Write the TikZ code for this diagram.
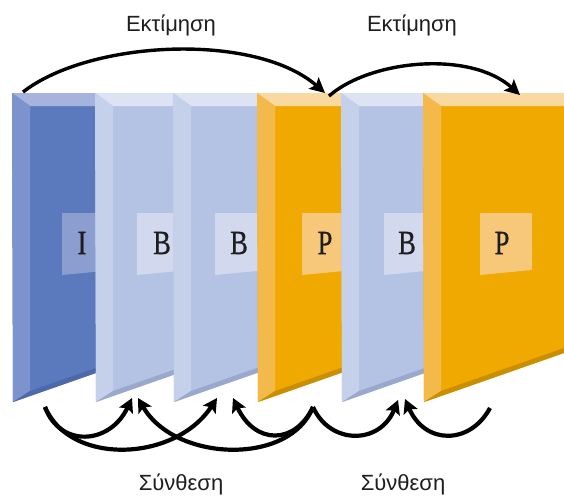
\documentclass[tikz,border=0pt]{standalone}
\usepackage{fontspec}
\setmainfont{Liberation Serif}
\newfontfamily\grkfont{Liberation Sans}
\newfontfamily\letterfont{Liberation Serif}[FakeBold=0.8]
\usetikzlibrary{arrows.meta}

\definecolor{Imain}{HTML}{5B7ABD}
\definecolor{Ileft}{HTML}{7C93CD}
\definecolor{Itop}{HTML}{A6B4DD}
\definecolor{Ibot}{HTML}{4D69AC}
\definecolor{Ibox}{HTML}{8C9ED0}
\definecolor{Bmain}{HTML}{B4C2E3}
\definecolor{Bleft}{HTML}{C5D0EA}
\definecolor{Btop}{HTML}{DDE3F3}
\definecolor{Bbot}{HTML}{9BA8CD}
\definecolor{Bbox}{HTML}{D2D9EE}
\definecolor{Pmain}{HTML}{EFA900}
\definecolor{Pleft}{HTML}{F3B94A}
\definecolor{Ptop}{HTML}{F9D9A0}
\definecolor{Pbot}{HTML}{C98F00}
\definecolor{Pbox}{HTML}{F7C87A}
\definecolor{txt}{HTML}{1E1E1E}

\tikzset{
  frameletter/.style={inner sep=0pt, text=txt,
    font=\letterfont\fontsize{34}{34}\selectfont},
  caption/.style={inner sep=0pt, anchor=base, text=txt,
    font=\grkfont\fontsize{22}{22}\selectfont},
  toparr/.style={line width=3.4pt, draw=black,
    -{Stealth[length=15pt,width=15pt,inset=3pt]}},
  botarr/.style={line width=4.2pt, draw=black,
    -{Stealth[length=14pt,width=15pt,inset=3pt]}},
}

% #1 xL, #2 xR, #3 palette, #4 boxL, #5 letter, #6 letter x, #7 node name
\newcommand{\drawframe}[7]{%
  \pgfmathsetmacro{\yR}{402-0.35*(#2-#1-1)}%
  \pgfmathsetmacro{\yRi}{\yR-5}%
  \fill[#3main] (#1,93) -- (#2,93) -- (#2,\yR) -- (#1+1,402) -- cycle;
  \fill[#3top] (#1,93) -- (#2,93) -- (#2,106) -- (#1+18,106) -- cycle;
  \fill[#3left] (#1,93) -- (#1+18,106) -- (#1+18,391) -- (#1+1,402) -- cycle;
  \fill[#3bot] (#1+1,402) -- (#1+18,391) -- (#2,\yRi) -- (#2,\yR) -- cycle;
  \fill[#3box] (#4,213) -- (#4+52,213) -- (#4+52,270) -- (#4,275) -- cycle;
  \node[frameletter] (#7) at (#6,243) {\scalebox{0.78}[1]{#5}};
}

\begin{document}
\begin{tikzpicture}[x=1pt,y=-1pt]
\useasboundingbox (0,0) rectangle (564,495);
\fill[white] (0,0) rectangle (564,495);

\drawframe{12}{150}{I}{62}{I}{82}{fI}
\drawframe{95}{230}{B}{137}{B}{162}{fB1}
\drawframe{173}{310}{B}{215}{B}{239}{fB2}
\drawframe{257}{390}{P}{302}{P}{325}{fP1}
\drawframe{341}{470}{B}{384}{B}{407}{fB3}
\drawframe{423}{600}{P}{480}{P}{502}{fP2}

% arrow end points
\coordinate (eI) at (23,92);
\coordinate (eP1) at (325,93);
\coordinate (sP1) at (329,96);
\coordinate (eP2) at (520,95);

\coordinate (bI) at (45,407);
\coordinate (bP1) at (313,407);
\coordinate (bP2) at (490,408);
\coordinate (tB1a) at (132,398);
\coordinate (tB1b) at (138,398);
\coordinate (tB2a) at (217,398);
\coordinate (tB2b) at (233,398);
\coordinate (tB3a) at (398,400);
\coordinate (tB3b) at (405,399);

% estimation arcs
\draw[toparr] (eI) .. controls (90,40) and (255,32) .. (eP1);
\draw[toparr] (sP1) .. controls (370,60) and (470,50) .. (eP2);

% synthesis arcs
\draw[botarr] (bI) .. controls (60,448) and (110,445) .. (tB1a);
\draw[botarr] (bI) .. controls (70,466) and (175,462) .. (tB2a);
\draw[botarr] (bP1) .. controls (290,466) and (175,462) .. (tB1b);
\draw[botarr] (bP1) .. controls (295,445) and (255,445) .. (tB2b);
\draw[botarr] (bP1) .. controls (330,445) and (380,445) .. (tB3a);
\draw[botarr] (bP2) .. controls (470,445) and (425,445) .. (tB3b);

% captions
\node[caption] (est1) at (171,32) {Εκτίμηση};
\node[caption] (est2) at (412,32) {Εκτίμηση};
\node[caption] (syn1) at (181,490) {Σύνθεση};
\node[caption] (syn2) at (403,490) {Σύνθεση};
\end{tikzpicture}
\end{document}
